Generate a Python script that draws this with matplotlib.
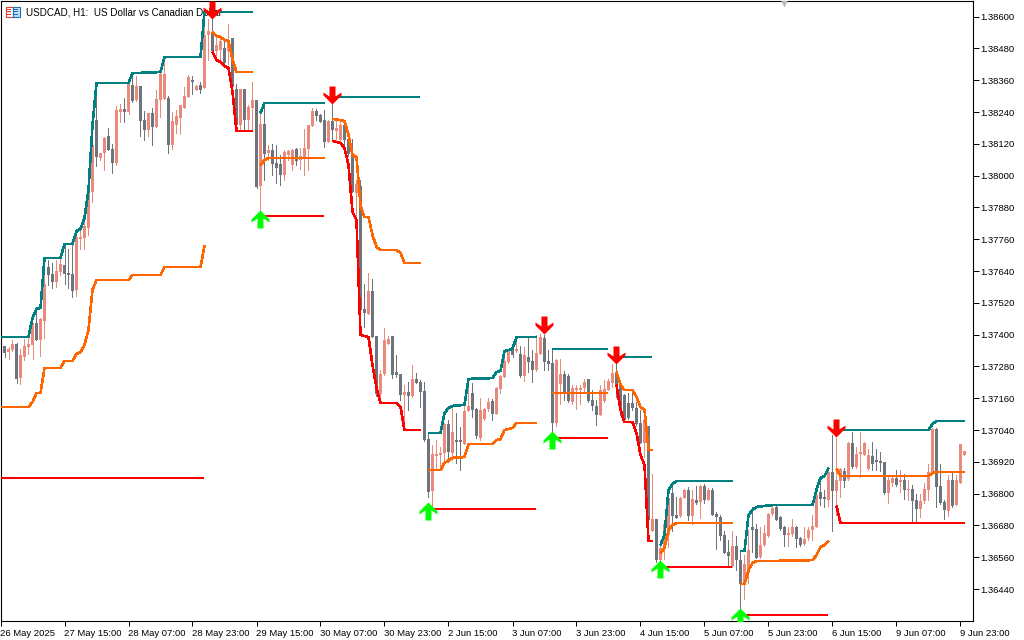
import matplotlib
matplotlib.use("Agg")
import matplotlib.pyplot as plt
import numpy as np
from matplotlib.path import Path
from matplotlib.patches import Rectangle

title = "USDCAD, H1:  US Dollar vs Canadian Dollar"
tick_labels_x = ["26 May 2025", "27 May 15:00", "28 May 07:00", "28 May 23:00", "29 May 15:00",
                 "30 May 07:00", "30 May 23:00", "2 Jun 15:00", "3 Jun 07:00", "3 Jun 23:00",
                 "4 Jun 15:00", "5 Jun 07:00", "5 Jun 23:00", "6 Jun 15:00", "9 Jun 07:00", "9 Jun 23:00"]
tick_step = 16
price_ticks = [36440, 36560, 36680, 36800, 36920, 37040, 37160, 37280, 37400, 37520, 37640,
               37760, 37880, 38000, 38120, 38240, 38360, 38480, 38600]

# prices as points above 1.00000
opens = [37350,37357,37334,37342,37365,37236,37316,37353,37361,37444,37380,37452,37655,37629,37599,37636,37663,37633,37629,37569,
 37761,37765,37803,37938,38210,38067,38086,38150,38101,38048,38240,38252,38240,38342,38286,38338,38210,38172,38237,38184,
 38286,38289,38293,38116,38191,38218,38255,38297,38361,38323,38342,38331,38531,38542,38470,38474,38482,38470,38520,38327,
 38191,38327,38210,38255,38286,37961,38195,38086,38097,38048,38044,38003,38078,38040,38101,38059,38070,38101,38187,38244,
 38229,38210,38127,38206,38169,38135,38191,38138,38078,37935,37961,37497,37478,37565,37395,37176,37252,37365,37395,37259,
 37252,37172,37184,37168,37233,37221,37187,37006,36810,36942,36946,36953,37063,36953,37002,37002,36987,37112,37180,37119,
 37010,37082,37119,37150,37101,37195,37240,37297,37342,37338,37327,37244,37316,37301,37267,37327,37387,37301,37293,37067,
 37214,37252,37244,37146,37191,37191,37199,37233,37153,37131,37097,37150,37191,37218,37255,37210,37172,37142,37142,37123,
 37067,36991,37055,36659,36704,36549,36599,36644,36803,36719,36716,36784,36814,36716,36776,36768,36829,36776,36814,36723,
 36712,36644,36580,36527,36602,36549,36459,36500,36674,36667,36561,36606,36640,36723,36750,36712,36674,36644,36648,36674,
 36633,36610,36633,36663,36674,36806,36787,36776,36882,36810,36848,36886,36855,36991,36901,36950,36946,36893,36942,36927,
 36923,36919,36803,36840,36859,36844,36851,36814,36818,36776,36742,36772,36814,36882,37044,36829,36768,36734,36851,36757,
 36840,36946]
highs = [37357,37357,37353,37380,37369,37346,37384,37391,37444,37493,37463,37659,37682,37670,37682,37693,37735,37723,37746,37787,
 37795,37844,37965,38218,38350,38086,38146,38180,38120,38263,38271,38293,38350,38380,38376,38338,38244,38237,38255,38323,
 38387,38448,38301,38240,38248,38267,38335,38380,38376,38342,38354,38580,38591,38591,38531,38531,38512,38572,38520,38346,
 38327,38327,38267,38354,38286,38237,38271,38116,38120,38116,38078,38097,38097,38101,38105,38105,38176,38191,38255,38252,
 38233,38248,38210,38271,38218,38210,38203,38157,38138,37984,37984,37591,37633,37610,37395,37267,37425,37395,37395,37323,
 37252,37210,37221,37285,37255,37229,37221,37029,36984,37002,36976,37067,37078,37127,37104,37052,37142,37210,37218,37123,
 37161,37123,37161,37157,37203,37248,37323,37346,37372,37391,37357,37353,37391,37342,37399,37402,37399,37342,37346,37308,
 37308,37263,37252,37210,37210,37210,37233,37233,37191,37153,37210,37229,37233,37289,37293,37229,37176,37180,37184,37146,
 37116,37116,37055,36874,36704,36625,36685,36821,36844,36787,36787,36818,36825,36814,36829,36833,36836,36821,36821,36731,
 36719,36659,36625,36659,36640,36587,36568,36663,36750,36685,36674,36682,36727,36753,36753,36716,36678,36674,36704,36678,
 36636,36674,36674,36719,36803,36859,36814,36897,37021,37010,36897,36897,36995,37033,36976,37033,36995,36969,36995,36969,
 36957,36919,36863,36870,36889,36889,36874,36851,36833,36799,36799,36840,36912,37048,37048,36912,36776,36870,36878,36870,
 36987,36961]
lows = [37350,37316,37308,37338,37218,37214,37304,37327,37308,37380,37319,37387,37587,37576,37580,37625,37591,37576,37542,37546,
 37723,37723,37776,37901,38037,38059,38021,38097,38010,38040,38203,38203,38233,38278,38282,38150,38135,38150,38116,38184,
 38221,38289,38086,38101,38161,38157,38255,38297,38308,38323,38312,38331,38437,38467,38433,38437,38421,38421,38297,38172,
 38172,38172,38172,38172,37953,37863,37984,38059,38003,37972,37965,37984,38059,38021,38040,38025,38003,38021,38187,38210,
 38203,38108,38127,38135,38135,38116,38112,38074,37938,37833,37486,37429,37478,37391,37168,37142,37248,37365,37236,37240,
 37153,37040,37116,37165,37218,37127,36999,36787,36750,36889,36889,36916,36919,36927,36916,36889,36987,37112,37089,37010,
 37002,37078,37112,37078,37101,37180,37240,37293,37316,37334,37240,37225,37259,37221,37263,37327,37267,37267,37033,37055,
 37138,37153,37146,37138,37119,37138,37180,37146,37116,37059,37097,37146,37191,37203,37165,37097,37074,37082,37116,37059,
 36991,36938,36682,36659,36542,36531,36553,36599,36659,36708,36712,36784,36700,36685,36761,36708,36765,36776,36719,36591,
 36625,36576,36523,36523,36512,36368,36402,36463,36580,36557,36557,36602,36636,36719,36700,36663,36602,36602,36640,36599,
 36602,36606,36625,36625,36674,36757,36750,36753,36659,36719,36787,36825,36851,36897,36897,36863,36946,36889,36889,36889,
 36886,36799,36765,36829,36829,36806,36780,36776,36697,36693,36712,36765,36776,36878,36750,36761,36704,36716,36750,36757,
 36840,36946]
closes = [37357,37331,37346,37365,37233,37323,37357,37365,37437,37380,37459,37591,37625,37599,37640,37667,37629,37625,37565,37769,
 37769,37810,37946,38116,38070,38086,38142,38097,38048,38248,38252,38240,38346,38282,38338,38206,38172,38237,38184,38289,
 38384,38384,38116,38206,38225,38267,38301,38372,38354,38338,38323,38531,38546,38470,38493,38508,38425,38504,38335,38191,
 38327,38210,38259,38286,37957,38195,38082,38097,38044,38029,38003,38089,38093,38097,38055,38074,38105,38191,38244,38225,
 38203,38127,38206,38172,38180,38191,38135,38082,37938,37969,37493,37482,37565,37391,37176,37252,37380,37384,37248,37248,
 37172,37184,37168,37233,37218,37184,37002,36806,36950,36950,36953,37063,36957,37033,36995,36995,37112,37131,37116,37018,
 37116,37119,37146,37101,37199,37244,37301,37338,37323,37346,37244,37323,37297,37267,37331,37391,37297,37289,37067,37304,
 37252,37184,37150,37199,37199,37199,37221,37150,37131,37097,37191,37195,37225,37255,37210,37116,37078,37085,37123,37063,
 36991,37078,36700,36704,36549,36595,36685,36784,36716,36708,36784,36814,36716,36780,36765,36829,36776,36814,36719,36712,
 36640,36576,36565,36602,36549,36459,36534,36587,36663,36557,36606,36651,36723,36746,36700,36667,36644,36651,36674,36629,
 36606,36629,36663,36678,36795,36780,36780,36882,36810,36851,36893,36848,36991,36901,36950,36957,36991,36946,36912,36919,
 36916,36803,36851,36859,36833,36851,36814,36818,36772,36742,36772,36818,36882,37044,36825,36765,36738,36851,36753,36851,
 36987,36961]

# indicator segments: (bar indices, prices in points)
teal_segments = [
 ([0,7,8,9,10,11,15,16,18,19,20,21,22,23,24,32,33,40,41,50,51,63],
  [37391,37391,37463,37497,37501,37689,37689,37742,37742,37791,37799,37840,37946,38191,38350,38350,38387,38391,38448,38448,38618,38618]),
 ([65,66,81],[38237,38274,38274]),
 ([83,105],[38297,38297]),
 ([107,110,111,112,113,116,117,123,124,125,126,128,129,134],
  [37029,37029,37104,37123,37131,37135,37233,37236,37259,37263,37338,37346,37391,37391]),
 ([138,152],[37346,37346]),
 ([154,163],[37316,37316]),
 ([165,166,167,168,169,183],[36606,36644,36814,36836,36848,36848]),
 ([185,186,187,188,189,193,203,204,205,206,207],[36583,36583,36719,36738,36750,36757,36757,36814,36859,36867,36897]),
 ([209,232,233,234,241],[37040,37040,37063,37074,37074]),
]
orange_segments = [
 ([0,7,8,9,10,11,15,16,18,19,20,21,22,23,24,32,33,40,41,50,51],
  [37127,37127,37146,37180,37180,37274,37274,37301,37301,37327,37334,37361,37418,37569,37606,37606,37625,37625,37655,37655,37735]),
 ([53,54,55,56,57,58,59,63],[38542,38527,38523,38512,38508,38437,38391,38391]),
 ([65,66,67,81],[38040,38059,38067,38067]),
 ([83,85,86,87,88,89,90,91,92,93,94,95,99,100,101,105],
  [38214,38210,38206,38154,38078,38070,37889,37844,37844,37776,37731,37720,37720,37708,37670,37670]),
 ([107,110,111,113,116,117,123,124,125,126,128,129,134],
  [36889,36889,36916,36935,36938,36987,36987,37002,37006,37040,37048,37067,37067]),
 ([138,152],[37180,37180]),
 ([154,155,156,158,159,160,161,162,163],[37259,37210,37191,37191,37165,37127,37116,36965,36965]),
 ([165,166,167,168,169,183],[36576,36595,36663,36682,36689,36689]),
 ([185,186,187,188,189,193,203,204,205,206,207],[36459,36459,36512,36538,36546,36546,36549,36568,36599,36606,36621]),
 ([209,210,232,233,234,241],[36893,36867,36867,36878,36882,36882]),
]
red_segments = [
 ([0,51],[36859,36859]),
 ([53,54,55,56,57,58,59,63],[38467,38437,38429,38414,38406,38316,38169,38169]),
 ([65,81],[37848,37848]),
 ([83,85,86,87,88,89,90,92,93,94,95,99,100,101,105],
  [38131,38123,38104,38040,37863,37833,37399,37391,37285,37199,37142,37142,37127,37040,37040]),
 ([107,134],[36742,36742]),
 ([138,152],[37010,37010]),
 ([154,155,156,158,159,160,161,162,163],[37210,37116,37070,37070,37029,36946,36908,36621,36621]),
 ([165,183],[36523,36523]),
 ([185,207],[36342,36342]),
 ([209,210,241],[36753,36689,36689]),
]
down_idx = [53, 83, 136, 154, 209]
down_tip = [38591, 38271, 37402, 37289, 37014]
up_idx = [65, 107, 138, 165, 185]
up_tip = [37870, 36768, 37036, 36549, 36368]

W, H = 1024, 640
PLOT_R, PLOT_B = 973, 621
BASE, SCALE = 1.0, 1e-5
def P(v):
    return BASE + np.asarray(v, dtype=float) * SCALE

FONT = ['Liberation Sans', 'DejaVu Sans']
plt.rcParams['font.family'] = FONT
FS = 6.8
fig = plt.figure(figsize=(W/100, H/100), dpi=100, facecolor='white')
ax = fig.add_axes([0.5/W, (H-PLOT_B)/H, (PLOT_R-0.5)/W, (PLOT_B-0.5)/H])
ax.set_xlim(0.0, (PLOT_R-0.5)/4)
ax.set_ylim(P(38663-3.774*PLOT_B), P(38663-3.774*0.5))

COL_UP, COL_DN = '#E98A7D', '#6E747C'
o, h, l, c = map(np.array, (opens, highs, lows, closes))
idx = np.arange(len(o))
cols = [COL_UP if cc >= oo else COL_DN for oo, cc in zip(o, c)]
ax.vlines(idx, P(l), P(h), colors=cols, linewidth=0.72, antialiased=False, zorder=2)
ax.bar(idx, P(np.abs(c-o)) - BASE, bottom=P(np.minimum(o, c)), width=0.7, color=cols,
       linewidth=0, antialiased=False, zorder=2.5)

for segs, col in ((teal_segments, '#008080'), (orange_segments, '#FF6600'), (red_segments, '#FF0000')):
    for xs, ys in segs:
        ax.plot(xs, P(ys), color=col, lw=1.15, solid_capstyle='butt', solid_joinstyle='miter',
                antialiased=False, zorder=3)

arrow_down = Path([(0,0),(9,9),(9,12),(3,8),(3,18),(-3,18),(-3,8),(-9,12),(-9,9),(0,0)], closed=True)
arrow_up = Path([(0,0),(9,-9),(9,-12),(3,-8),(3,-18),(-3,-18),(-3,-8),(-9,-12),(-9,-9),(0,0)], closed=True)
ms = 36 * 0.72
ax.plot(down_idx, P(down_tip), ls='none', marker=arrow_down, ms=ms, mfc='#FF0000', mec='none', zorder=5)
ax.plot(up_idx, P(up_tip), ls='none', marker=arrow_up, ms=ms, mfc='#00FF00', mec='none', zorder=5)

for side in ('left', 'right', 'top', 'bottom'):
    ax.spines[side].set_linewidth(0.8)
    ax.spines[side].set_color('black')

ax.yaxis.tick_right()
ax.set_yticks(P(price_ticks))
ax.set_yticklabels([f"{p:.5f}" for p in P(price_ticks)], fontsize=FS)
ax.tick_params(axis='y', length=4, width=0.72, pad=1, color='black')
tick_pos = np.arange(len(tick_labels_x)) * tick_step
ax.set_xticks(tick_pos)
ax.set_xticklabels(tick_labels_x, fontsize=FS, ha='left')
ax.tick_params(axis='x', length=3.5, width=0.72, pad=2, color='black')

ax.text(26/PLOT_R, 1-12/PLOT_B, title, transform=ax.transAxes, fontsize=7.1, va='center', ha='left', zorder=1)

# window icon
def fr(x, y, w, h, **kw):
    fig.add_artist(Rectangle((x/W, 1-(y+h)/H), w/W, h/H, transform=fig.transFigure, **kw))
fr(5.5, 6.5, 7, 10, fc='#FFFFFF', ec='#E0402A', lw=0.8)
fr(12.5, 6.5, 7, 10, fc='#BFE0F5', ec='#1F6FB5', lw=0.8)
for yy in (9, 11.5, 14):
    fr(7, yy, 4, 0.8, fc='#E0402A', ec='none')
    fr(14, yy, 4, 0.8, fc='#1F6FB5', ec='none')
# gray marker at top edge
ax.plot([784/PLOT_R], [1-3/PLOT_B], transform=ax.transAxes, marker='v', ms=6, mfc='#B8B8B8', mec='none', zorder=6)

fig.savefig('out.png', dpi=100, facecolor='white')
